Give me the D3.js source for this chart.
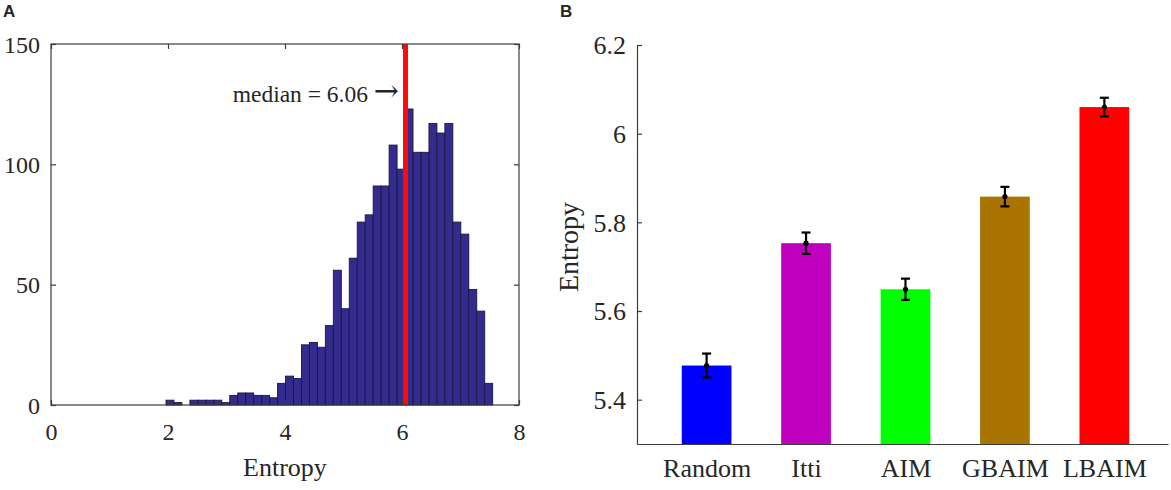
<!DOCTYPE html>
<html><head><meta charset="utf-8">
<script src="https://cdn.jsdelivr.net/npm/d3@7"></script>
<style>
body{margin:0;background:#fff}
svg{display:block}
text{font-family:"Liberation Serif","Times New Roman",serif;fill:#262626}
</style>
</head><body>
<svg id="c" width="1171" height="490"></svg>
<script>
// ---- Panel A data (histogram) ----
const histBinStart = 1.966;
const histBinWidth = 0.1362;
const histCounts = [2,1,0,2,2,2,2,1,4,5,5,4,4,3,9,12,11,25,26,24,33,56,40,61,76,79,91,91,108,98,123,105,105,117,113,117,76,71,48,39,9];
const histXTicks = [0,2,4,6,8];
const histYTicks = [0,50,100,150];
const medianValue = 6.06;
const medianLabel = "median = 6.06";

// ---- Panel B data (bars) ----
const categories = ["Random","Itti","AIM","GBAIM","LBAIM"];
const meanEntropy = [5.477,5.753,5.649,5.858,6.060];
const errEntropy = [0.027,0.024,0.024,0.022,0.021];
const barColors = ["#0000ff","#bf00bf","#00ff00","#aa7400","#ff0000"];
const barYTicks = [5.4,5.6,5.8,6,6.2];

const svg = d3.select("#c");
const axisColor = "#3c3c3c";
const serif = "'Liberation Serif','Times New Roman',serif";

// ================= Panel A =================
const xA = d3.scaleLinear().domain([0,8]).range([51,519]);
const yA = d3.scaleLinear().domain([0,150]).range([405,44]);
const gA = svg.append("g");

const bins = histCounts.map((c,i)=>({x0: histBinStart + i*histBinWidth, x1: histBinStart + (i+1)*histBinWidth, c}));
gA.selectAll("rect.h").data(bins.filter(b=>b.c>0)).join("rect")
  .attr("class","h")
  .attr("x", d=>xA(d.x0)).attr("width", d=>xA(d.x1)-xA(d.x0))
  .attr("y", d=>yA(d.c)).attr("height", d=>yA(0)-yA(d.c))
  .attr("fill","#332c8e").attr("stroke","#1a173f").attr("stroke-width",0.9);

// median line
gA.append("line")
  .attr("x1", xA(medianValue)).attr("x2", xA(medianValue))
  .attr("y1", yA(150)).attr("y2", yA(0))
  .attr("stroke","#ff0a0a").attr("stroke-width",5);

// axes
function styleAxis(g, fs){
  g.attr("font-size", fs).attr("font-family", serif);
  g.selectAll("line").attr("stroke", axisColor).attr("stroke-width",1.2);
  g.selectAll("path").attr("stroke", axisColor).attr("stroke-width",1.2);
  g.selectAll("text").attr("fill","#262626").style("font-family", serif).style("font-size", fs+"px");
}
const axB = gA.append("g").attr("transform",`translate(0,${yA(0)})`)
  .call(d3.axisBottom(xA).tickValues(histXTicks).tickSizeInner(-5).tickSizeOuter(0).tickPadding(18).tickFormat(d3.format("d")));
axB.select(".domain").remove(); styleAxis(axB, 24);
const axT = gA.append("g").attr("transform",`translate(0,${yA(150)})`)
  .call(d3.axisTop(xA).tickValues(histXTicks).tickSizeInner(-5).tickSizeOuter(0).tickFormat(""));
axT.select(".domain").remove(); styleAxis(axT, 24);
const axL = gA.append("g").attr("transform",`translate(${xA(0)},0)`)
  .call(d3.axisLeft(yA).tickValues(histYTicks).tickSizeInner(-5).tickSizeOuter(0).tickPadding(11).tickFormat(d3.format("d")));
axL.select(".domain").remove(); styleAxis(axL, 24);
axL.selectAll("text").attr("dy","0.34em");
const axR = gA.append("g").attr("transform",`translate(${xA(8)},0)`)
  .call(d3.axisRight(yA).tickValues(histYTicks).tickSizeInner(-5).tickSizeOuter(0).tickFormat(""));
axR.select(".domain").remove(); styleAxis(axR, 24);

gA.append("rect")
  .attr("x", xA(0)).attr("y", yA(150))
  .attr("width", xA(8)-xA(0)).attr("height", yA(0)-yA(150))
  .attr("fill","none").attr("stroke",axisColor).attr("stroke-width",1.2);

const mt = gA.append("text").attr("x",399).attr("y",102).attr("text-anchor","end")
  .attr("font-size",23.5);
mt.append("tspan").text(medianLabel + " ");
mt.append("tspan").attr("font-size",30).attr("font-family","'DejaVu Serif',serif").attr("font-weight",300).attr("dy",-1).text("\u2192");

gA.append("text").attr("x",(xA(0)+xA(8))/2).attr("y",476).attr("text-anchor","middle")
  .attr("font-size",26).text("Entropy");
svg.append("text").attr("x",3).attr("y",17).attr("font-size",17).attr("font-weight","bold")
  .style("font-family","'Liberation Sans',Arial,sans-serif").attr("fill","#111").text("A");

// ================= Panel B =================
const xB = d3.scaleLinear().domain([0.3,5.64]).range([637,1168]);
const yB = d3.scaleLinear().domain([5.3,6.2]).range([444,45]);
const gB = svg.append("g");
const barData = categories.map((c,i)=>({c, i: i+1, m: meanEntropy[i], e: errEntropy[i], col: barColors[i]}));

gB.selectAll("rect.b").data(barData).join("rect")
  .attr("class","b")
  .attr("x", d=>xB(d.i-0.25)).attr("width", d=>xB(d.i+0.25)-xB(d.i-0.25))
  .attr("y", d=>yB(d.m)).attr("height", d=>yB(5.3)-yB(d.m))
  .attr("fill", d=>d.col);

// error bars
const eb = gB.selectAll("g.eb").data(barData).join("g").attr("class","eb");
eb.append("line").attr("x1",d=>xB(d.i)).attr("x2",d=>xB(d.i))
  .attr("y1",d=>yB(d.m-d.e)).attr("y2",d=>yB(d.m+d.e)).attr("stroke","#000").attr("stroke-width",2.2);
eb.append("line").attr("x1",d=>xB(d.i)-4.5).attr("x2",d=>xB(d.i)+4.5)
  .attr("y1",d=>yB(d.m+d.e)).attr("y2",d=>yB(d.m+d.e)).attr("stroke","#000").attr("stroke-width",2.2);
eb.append("line").attr("x1",d=>xB(d.i)-4.5).attr("x2",d=>xB(d.i)+4.5)
  .attr("y1",d=>yB(d.m-d.e)).attr("y2",d=>yB(d.m-d.e)).attr("stroke","#000").attr("stroke-width",2.2);
eb.append("circle").attr("cx",d=>xB(d.i)).attr("cy",d=>yB(d.m)).attr("r",2.6).attr("fill","#000");

const ayB = gB.append("g").attr("transform",`translate(${xB(0.3)},0)`)
  .call(d3.axisLeft(yB).tickValues(barYTicks).tickSizeInner(-5).tickSizeOuter(0).tickPadding(11).tickFormat(d3.format("~g")));
styleAxis(ayB, 26);
ayB.selectAll("text").attr("dy","0.34em");
const axBB = gB.append("g").attr("transform",`translate(0,${yB(5.3)})`)
  .call(d3.axisBottom(xB).tickValues(categories.map((c,i)=>i+1)).tickSize(0).tickPadding(15).tickFormat(i=>categories[i-1]));
styleAxis(axBB, 26);

gB.append("text").attr("transform",`translate(578,247) rotate(-90)`).attr("text-anchor","middle")
  .attr("font-size",28).text("Entropy");
svg.append("text").attr("x",560).attr("y",17).attr("font-size",17).attr("font-weight","bold")
  .style("font-family","'Liberation Sans',Arial,sans-serif").attr("fill","#111").text("B");
</script>
</body></html>
